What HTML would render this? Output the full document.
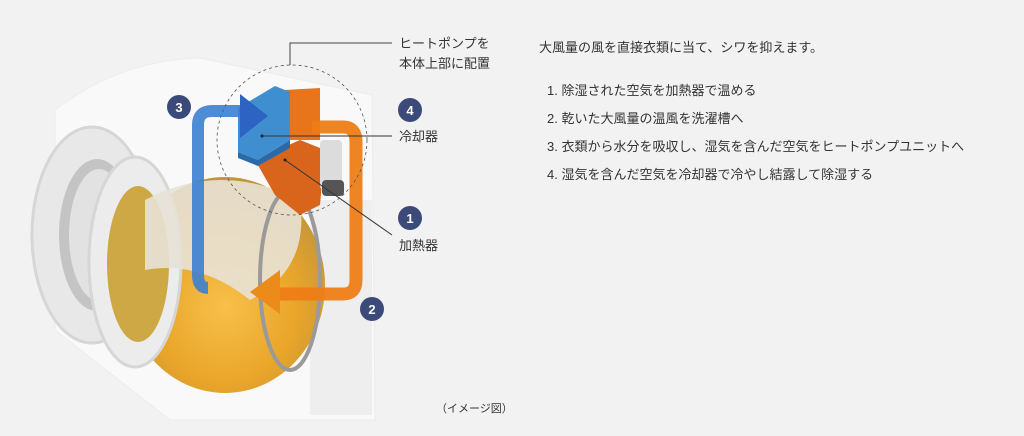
<!DOCTYPE html>
<html><head><meta charset="utf-8"><style>
body{margin:0;width:1024px;height:436px;background:#f2f2f2;overflow:hidden;font-family:"Liberation Sans","Noto Sans CJK JP",sans-serif;color:#333;position:relative}
.t{position:absolute;font-size:13px;white-space:nowrap;line-height:16px}
</style></head><body>
<svg width="1024" height="436" style="position:absolute;left:0;top:0">
<defs>
<radialGradient id="g" cx="0.5" cy="0.6" r="0.6"><stop offset="0" stop-color="#f7c04a"/><stop offset="0.6" stop-color="#e9a52a"/><stop offset="1" stop-color="#c0953a"/></radialGradient>
</defs>
<path d="M55,110 Q120,60 200,58 L372,95 L375,420 L170,420 L55,330 Z" fill="#f9f9f9" stroke="#ececec"/>
<rect x="310" y="200" width="62" height="215" fill="#eeeeee"/>
<ellipse cx="92" cy="235" rx="60" ry="108" fill="#e8e8e8" stroke="#d6d6d6" stroke-width="3"/>
<ellipse cx="97" cy="235" rx="38" ry="76" fill="#c4c4c4"/>
<ellipse cx="99" cy="235" rx="30" ry="66" fill="#e2e2e2"/>
<ellipse cx="225" cy="285" rx="100" ry="108" fill="url(#g)"/>
<ellipse cx="135" cy="262" rx="46" ry="105" fill="#ececec" stroke="#d6d6d6" stroke-width="3"/>
<ellipse cx="138" cy="264" rx="31" ry="78" fill="#cfa846"/>
<path d="M145,200 Q220,160 300,200 Q310,270 250,300 Q200,260 145,270 Z" fill="#e8e2d6" opacity="0.9"/>
<ellipse cx="290" cy="280" rx="30" ry="90" fill="none" stroke="#9a9a9a" stroke-width="4"/>
<path d="M255,160 L300,140 L325,150 L320,205 L300,215 L275,195 Z" fill="#d9641c"/>
<path d="M285,90 L320,88 L320,140 L290,140 Z" fill="#e8741c"/>
<rect x="320" y="140" width="22" height="50" rx="4" fill="#dcdcdc"/>
<rect x="322" y="180" width="22" height="16" rx="4" fill="#555"/>
<path d="M238,108 L275,86 L290,92 L290,140 L258,160 L238,152 Z" fill="#3f8fd0"/>
<path d="M238,152 L258,160 L290,140 L290,148 L258,166 L238,158Z" fill="#2b6aa6"/>
<path d="M208,288 Q198,288 198,275 L198,125 Q198,111 212,111 L245,111" fill="none" stroke="#3b7fd0" stroke-width="12" opacity="0.9"/>
<polygon points="240,94 268,116 240,138" fill="#2d63c2"/>
<path d="M312,127 L343,127 Q356,127 356,142 L356,280 Q356,294 343,294 L272,294" fill="none" stroke="#ee7d16" stroke-width="13" opacity="0.95"/>
<polygon points="280,270 250,292 280,314" fill="#ec8a1a"/>
<circle cx="292" cy="140" r="75" fill="none" stroke="#555" stroke-dasharray="3,3" stroke-width="0.8"/>
<polyline points="290,65 290,43 392,43" fill="none" stroke="#444" stroke-width="1"/>
<line x1="262" y1="136" x2="392" y2="136" stroke="#333"/>
<circle cx="262" cy="136" r="1.5" fill="#222"/>
<line x1="285" y1="160" x2="392" y2="235" stroke="#333"/>
<circle cx="285" cy="160" r="1.5" fill="#222"/>
<g fill="#3b4a78">
<circle cx="179" cy="107" r="12"/><circle cx="410" cy="110" r="12"/><circle cx="410" cy="218" r="12"/><circle cx="372" cy="309" r="12"/>
</g>
<g fill="#fff" font-size="13" font-weight="bold" text-anchor="middle" font-family="Liberation Sans,sans-serif">
<text x="179" y="112">3</text><text x="410" y="115">4</text><text x="410" y="223">1</text><text x="372" y="314">2</text>
</g>
</svg>
<div class="t" style="left:399px;top:36px">ヒートポンプを</div>
<div class="t" style="left:399px;top:56px">本体上部に配置</div>
<div class="t" style="left:399px;top:129px">冷却器</div>
<div class="t" style="left:399px;top:238px">加熱器</div>
<div class="t" style="left:436px;top:401px;font-size:11px">（イメージ図）</div>
<div class="t" style="left:539px;top:40px">大風量の風を直接衣類に当て、シワを抑えます。</div>
<div class="t" style="left:547px;top:83px">1. 除湿された空気を加熱器で温める</div>
<div class="t" style="left:547px;top:111px">2. 乾いた大風量の温風を洗濯槽へ</div>
<div class="t" style="left:547px;top:139px">3. 衣類から水分を吸収し、湿気を含んだ空気をヒートポンプユニットへ</div>
<div class="t" style="left:547px;top:167px">4. 湿気を含んだ空気を冷却器で冷やし結露して除湿する</div>
</body></html>
